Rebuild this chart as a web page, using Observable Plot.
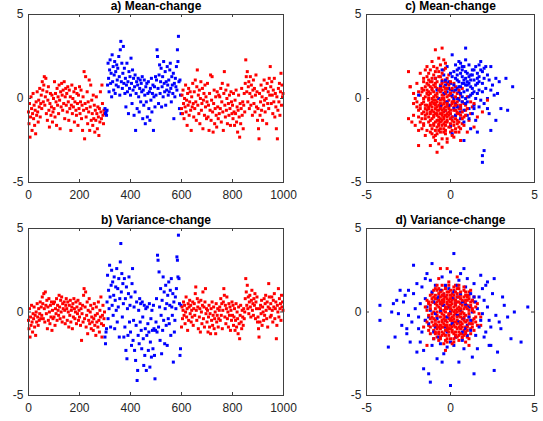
<!DOCTYPE html>
<html><head><meta charset="utf-8">
<script src="https://cdn.jsdelivr.net/npm/d3@7"></script>
<script src="https://cdn.jsdelivr.net/npm/@observablehq/plot@0.6"></script>
<style>
html,body{margin:0;padding:0;background:#fff}
#chart{position:relative;width:543px;height:421px;overflow:hidden;background:#fff}
#chart svg{position:absolute;left:0;top:0}
</style>
</head><body><div id="chart"></div>
<script>
// ---- tick labels ----
const timeTicks = [0, 200, 400, 600, 800, 1000];
const valueTicks = [-5, 0, 5];
const titles = ["a) Mean-change", "b) Variance-change", "c) Mean-change", "d) Variance-change"];
const timeStep = 2;            // one stored value every 2 time steps
const changeStart = 300, changeEnd = 600;

// ---- a) mean-change series (value at t = 0,2,4,...,998) ----
const meanSeries = [
-0.8,-1.5,-0.3,-2.3,-1.1,0.1,-0.6,-1.9,-0.9,0.3,-1.2,-0.4,-1.6,-0.7,-2.1,-0.2,-1.0,0.4,-0.8,-1.4,-0.1,-0.5,0.6,-1.1,-0.3,
0.2,-0.6,1.0,0.5,-0.2,0.8,1.3,-0.4,0.1,1.2,-0.9,0.4,-1.3,-0.1,0.7,-0.7,-1.7,-0.3,0.3,-1.0,-0.5,0.2,-1.4,-0.8,0.0,
-0.6,1.0,-1.1,0.3,-0.2,-1.6,0.6,-0.4,0.1,-0.9,0.8,-0.1,-1.8,0.4,-0.5,0.9,0.2,-0.7,0.5,-0.3,1.0,-1.2,0.1,0.6,-0.4,
0.3,-0.8,0.7,-0.2,-1.3,0.5,-0.6,0.1,-1.9,-0.4,0.8,-0.9,0.0,-0.5,0.4,-1.4,-0.2,0.6,-0.7,-1.0,0.3,-0.3,-1.6,0.2,-0.6,
0.7,-0.9,-0.2,0.5,-1.2,-0.4,-1.9,0.1,-0.7,1.6,-2.4,-0.3,1.3,-1.1,-0.6,0.4,-1.5,-0.2,-0.8,1.1,-1.9,-0.5,0.8,-1.3,-0.1,
-0.9,-1.6,0.2,-1.2,-0.4,-2.0,-0.7,-1.3,0.1,-0.9,-1.8,-0.5,-1.1,-2.2,-0.6,-1.4,0.4,-0.8,-1.2,0.8,-0.3,-1.0,-1.5,-0.7,-0.9,
-0.6,-0.9,-0.8,-1.0,-0.7,0.8,2.1,1.2,0.4,1.7,2.3,0.9,1.5,0.1,2.6,1.0,1.9,0.5,1.4,2.2,0.3,1.6,0.8,2.0,1.1,
1.8,0.7,2.5,1.3,0.2,2.9,3.4,1.0,2.1,0.6,1.5,3.1,0.9,1.8,0.3,1.2,-0.5,0.8,2.1,0.4,1.0,-0.9,1.6,0.6,1.3,
0.2,2.4,0.9,-0.3,1.7,0.5,1.2,-1.0,0.7,1.4,-1.9,0.3,1.0,-0.6,0.8,1.2,0.1,-0.8,0.6,1.1,-0.2,0.9,0.4,1.3,-1.2,
0.5,-0.4,1.1,0.2,-1.5,0.7,-0.2,0.9,-1.1,0.3,1.0,-0.6,0.4,-1.3,0.6,-0.1,1.2,-0.8,0.3,0.8,-1.9,0.1,0.7,-0.5,1.3,
0.2,1.1,2.9,2.5,0.6,-0.3,1.4,2.0,0.3,1.0,1.8,-0.5,0.7,1.3,0.1,2.2,0.9,0.4,1.6,-0.4,1.0,0.5,1.9,0.8,0.2,
1.1,0.4,1.7,2.1,0.6,-0.2,1.3,0.8,0.3,1.5,-1.2,0.9,0.1,1.2,0.7,1.9,0.5,2.9,2.2,3.7,1.0,-0.6,1.1,0.2,-0.9,
-0.6,0.2,-0.9,0.5,-0.3,-1.2,0.0,-0.5,0.8,-0.8,-0.1,-1.6,0.3,-0.4,0.6,-1.0,-0.2,0.4,-0.7,-1.9,0.1,-0.5,0.9,-0.3,-1.1,
0.4,-0.6,1.1,-0.2,-1.3,0.7,1.7,-0.4,0.2,-0.9,0.5,-1.5,0.0,1.0,-0.7,-0.3,0.6,-1.8,-0.1,0.3,-1.0,0.8,-0.5,0.1,-1.2,
-0.2,0.9,-1.1,-0.4,-1.9,0.3,-0.7,1.4,-1.3,-0.1,1.3,-0.8,-2.0,-0.3,0.5,-1.5,-0.6,0.1,-1.0,-1.7,0.4,-0.5,-1.2,0.2,-0.9,
0.1,-0.6,0.6,-1.4,-0.2,0.9,-0.8,-1.9,0.3,1.6,-0.4,-1.1,0.5,-0.7,0.0,-1.5,0.8,-0.3,-1.0,0.2,-0.6,-1.6,0.4,-0.2,-0.9,
-0.4,-1.2,0.3,-0.8,-1.6,-0.1,-0.9,0.5,-1.4,-0.5,-2.0,-0.7,0.2,-1.1,-2.3,-0.3,-1.5,-0.6,0.6,-1.0,-0.2,-1.8,-0.4,0.3,-0.8,
0.9,2.3,1.3,0.4,1.6,-0.2,0.7,1.0,-0.6,0.3,1.3,-0.4,0.8,0.1,-1.0,0.5,1.1,-0.3,0.6,-0.8,0.2,1.4,-0.5,0.4,-1.3,
-0.6,-1.8,-2.4,0.3,-1.0,-0.2,0.8,-0.7,0.1,-1.3,0.5,-0.4,1.1,-0.1,-0.8,0.6,0.0,-1.5,0.9,-0.3,0.4,-0.6,1.2,0.2,1.9,
0.7,-0.3,1.0,0.2,-0.9,0.5,-0.2,1.2,-1.1,0.3,-0.5,-1.8,0.1,-2.4,-0.7,0.6,-0.2,0.9,-1.0,0.4,1.5,-0.4,0.8,0.1,0.3
];

// ---- b) variance-change series (value at t = 0,2,4,...,998) ----
const varianceSeries = [
-0.5,-1.0,0.2,-1.5,-0.3,-0.8,0.4,-0.6,-1.2,-0.1,-0.4,0.3,-0.9,-0.2,-1.4,0.0,-0.6,0.5,-0.3,-0.8,0.2,-0.5,-0.1,0.6,-0.4,
0.3,-0.2,0.9,0.5,-0.4,1.1,0.2,-0.6,1.2,0.4,-0.1,0.7,-1.0,0.3,-0.5,0.8,0.0,-0.7,0.4,-0.3,0.6,-1.1,0.1,-0.4,0.5,
-0.3,0.6,-0.8,0.2,-0.1,0.8,-0.5,0.4,0.1,-0.2,1.0,0.3,-0.4,0.7,0.0,0.9,-0.6,0.5,0.2,-0.3,0.6,0.1,-0.7,0.4,0.8,
0.2,-0.5,0.6,0.0,-0.9,0.4,-0.2,0.7,-0.6,0.1,0.3,-1.0,0.5,-0.3,0.8,0.2,-0.4,0.0,0.6,-0.7,0.3,-0.1,0.7,-0.5,0.1,
-0.3,0.5,-0.8,0.2,-1.7,-0.1,0.4,-0.6,1.0,1.4,-0.4,0.3,1.2,-0.9,-0.2,0.6,-1.3,0.1,-0.5,0.8,-0.7,0.0,0.4,-1.0,-0.3,
-0.6,0.2,-1.1,-0.4,0.5,-0.8,-0.2,-1.4,0.3,-0.6,-0.1,-0.9,0.6,-0.5,-1.2,0.1,-0.3,0.9,-0.7,-1.5,-0.2,0.4,-0.8,-0.4,0.0,
-1.5,-1.9,-1.2,-1.0,0.6,2.2,-0.4,1.3,0.2,2.8,0.9,-0.9,1.6,2.5,0.4,1.8,-0.2,1.0,2.1,-1.0,0.7,1.5,0.1,2.6,-0.6,
1.4,0.3,2.0,-1.5,0.8,3.0,4.1,1.2,2.3,-0.3,1.7,0.5,-1.5,2.0,-0.9,0.8,-2.3,1.5,-2.8,0.2,-1.4,1.1,2.1,-0.6,0.4,
-1.2,0.9,-2.0,1.7,2.6,-1.7,-0.5,0.3,-2.3,1.2,-2.9,-0.8,0.6,-4.1,-3.5,-1.4,0.1,-1.9,0.8,-0.6,0.5,-1.1,-2.2,0.6,-0.3,
-1.6,-3.2,0.4,-2.6,-1.0,0.2,-3.5,-1.4,0.3,-0.7,-2.3,-1.2,0.5,-3.3,-1.8,-0.4,-2.7,0.1,-1.1,-2.2,0.4,-1.0,-2.6,-4.0,-1.1,
-0.6,0.8,-1.2,3.4,3.1,-0.9,2.4,0.3,-1.7,1.4,-0.2,-2.5,0.7,-1.1,2.1,-0.5,1.2,-1.9,0.2,1.6,-0.8,0.5,-2.0,1.0,-0.4,
1.8,-0.7,0.4,1.3,-1.4,2.0,0.3,-0.2,1.1,-3.0,0.6,-1.2,-0.5,0.9,0.2,1.4,3.3,3.1,2.1,4.6,2.0,0.5,-2.6,-2.2,0.4,
-0.9,0.3,-0.4,0.1,0.6,-0.2,0.4,-0.7,0.0,0.9,-0.3,0.2,-1.1,0.5,-0.5,0.3,0.7,-0.1,0.4,-0.6,0.1,-0.3,0.6,-0.8,0.2,
0.5,-0.2,1.1,1.5,0.1,-0.5,0.8,0.3,-1.0,0.6,-0.3,0.2,-1.2,0.7,0.0,-0.7,0.4,1.2,-0.4,0.3,-0.9,0.6,1.4,-0.1,0.2,
-0.6,0.1,-1.2,-0.3,0.4,-0.9,-0.1,-1.3,0.2,-0.5,0.6,-0.8,-0.2,0.3,-1.0,-0.4,0.0,-1.3,0.5,-0.6,-0.2,0.2,-0.9,-0.4,0.1,
0.3,-0.5,0.8,-0.2,0.5,-1.0,0.1,0.6,1.4,1.0,-0.3,0.4,-0.7,0.2,0.9,-0.4,0.0,-0.9,0.5,-0.2,0.3,-1.1,0.1,-0.5,0.6,
-0.2,0.4,-0.8,-0.3,0.2,-1.1,-0.5,0.5,-0.9,0.0,-0.4,-1.3,0.3,-0.7,-1.6,-0.2,0.4,-0.6,-1.0,0.1,-0.3,-0.8,0.2,-0.4,0.0,
0.8,2.0,1.2,0.4,1.6,0.2,0.9,-0.1,0.6,1.0,0.3,-0.3,0.7,1.3,0.1,0.5,-0.2,0.8,0.4,1.1,-0.4,0.6,0.2,0.9,-0.6,
-0.3,-1.0,-1.5,0.2,-0.6,0.4,-0.1,0.7,-0.8,0.3,0.0,-0.5,0.8,-0.2,0.5,1.0,0.1,-0.4,0.6,-0.9,0.3,1.7,0.9,0.2,-0.3,
0.5,-0.2,0.9,0.1,-0.6,0.7,0.3,1.1,-0.4,0.2,0.6,-1.6,-0.8,0.4,0.0,1.4,-0.3,0.8,0.2,0.5,-0.5,1.0,0.3,0.6,0.1
];

// ---- c) mean-change scatter ----
const meanRed = [
[-0.5,-0.4],[-0.9,0.2],[-0.2,-1.1],[-1.3,-0.6],[0.1,-0.3],[-0.7,-1.5],[-1.1,0.5],[-0.3,0.3],[0.4,-0.8],[-1.6,-0.2],
[-0.8,-0.9],[-0.4,-1.8],[0.2,0.4],[-1.2,-1.3],[-0.6,0.8],[0.5,-1.4],[-1.9,0.4],[-0.1,-0.6],[-1.0,-0.1],[0.7,-0.2],
[-0.5,1.1],[-1.4,-1.9],[0.0,-2.0],[-0.8,0.6],[-1.7,-0.9],[0.3,-1.0],[-0.3,-0.2],[-1.1,1.2],[-0.6,-1.2],[0.9,-0.7],
[-1.5,0.1],[-0.2,0.9],[-0.9,-2.2],[0.6,0.2],[-1.2,-0.3],[-0.4,-0.8],[0.2,-1.6],[-2.0,-0.5],[-0.7,0.0],[-0.1,1.4],
[-1.3,0.8],[0.4,-0.4],[-0.8,-1.7],[-1.6,1.0],[0.1,0.1],[-0.5,-2.4],[-1.0,-1.0],[0.8,-1.1],[-0.3,0.6],[-1.8,-1.4],
[-0.6,-0.5],[0.3,0.7],[-1.1,-0.7],[-0.2,-1.4],[-1.4,0.3],[0.5,-0.6],[-0.9,1.6],[-0.4,0.2],[-2.1,0.0],[0.0,-0.9],
[-0.7,-1.1],[1.0,0.1],[-1.2,-2.0],[-0.5,0.5],[0.2,-2.3],[-1.5,-0.6],[-0.1,-0.1],[-0.8,1.0],[0.6,-1.8],[-1.3,-1.1],
[-0.6,2.0],[-0.3,-1.0],[-1.7,0.6],[0.4,0.3],[-1.0,-1.5],[-0.4,-0.3],[0.1,-1.3],[-2.2,-1.0],[-0.9,-0.4],[0.7,0.6],
[-1.1,0.0],[-0.2,-2.6],[-0.7,1.3],[-1.6,-1.6],[0.3,-0.7],[-0.5,-0.9],[-1.3,1.5],[0.0,0.5],[-0.8,-0.2],[1.2,-0.9],
[-1.9,-1.9],[-0.4,1.7],[-1.0,0.4],[0.5,-2.0],[-0.6,-1.4],[-1.4,-0.9],[0.2,-0.1],[-0.3,-1.6],[-2.4,0.7],[-0.9,0.9],
[-0.1,-0.5],[-1.2,0.7],[-0.6,-2.0],[0.3,-1.2],[-1.5,-1.2],[-0.8,0.3],[0.0,-1.7],[-2.0,0.9],[-0.4,-0.6],[0.8,-0.3],
[-1.1,-1.8],[-0.3,1.0],[-0.9,-0.6],[0.5,0.0],[-1.7,-0.3],[-0.5,-1.3],[0.2,0.9],[-1.3,-0.1],[-0.7,-2.7],[1.1,-1.3],
[-0.2,0.1],[-1.0,1.9],[-1.6,-0.8],[0.4,-1.5],[-0.6,0.4],[-1.2,-1.6],[0.0,-0.4],[-2.3,-1.4],[-0.8,-1.3],[0.9,-0.4],
[-0.4,2.3],[-1.4,0.5],[-0.1,-0.8],[-1.9,-0.7],[0.6,-1.0],[-0.9,-0.1],[-0.3,-2.1],[-1.1,1.0],[0.2,-0.5],[-1.5,-2.2],
[-0.5,0.0],[1.3,-0.5],[-1.0,-0.8],[-0.2,1.2],[-1.8,0.2],[0.1,-1.9],[-0.7,-0.7],[-1.3,1.1],[0.7,-1.5],[-0.4,-1.1],
[-1.1,2.2],[-0.7,2.4],[-1.4,1.9],[-1.6,1.2],[-2.5,1.6],[-2.4,0.7],[-2.5,-1.2],[-0.5,3.0],[-0.9,2.9],[-0.8,-3.2],
[-1.9,-2.8],[-1.2,-2.8],[2.2,-0.1],[1.4,-1.7],[1.9,-0.8],[1.0,-2.0],[1.6,-1.1],[1.4,-0.3],[0.6,-2.5],[-2.2,0.3],
[-0.6,-0.1],[-1.0,0.1],[0.1,-1.1],[-0.3,0.4],[-1.4,-0.4],[-0.8,-1.0],[0.3,0.1],[-1.2,0.3],[-0.5,-1.6],[-0.1,0.8],
[-1.7,-1.2],[-0.4,-0.1],[0.5,-0.9],[-0.9,0.7],[-1.3,-0.5],[-0.2,-1.3],[-0.7,1.6],[0.0,0.3],[-1.1,-1.2],[-0.6,-0.3],
[-1.5,0.7],[0.2,-0.7],[-0.8,-0.5],[-0.3,-1.9],[-1.0,1.4],[0.4,-0.2],[-1.2,-0.9],[-0.5,0.2],[-2.0,-0.2],[0.1,-2.2],
[-0.9,-1.4],[-0.2,-0.4],[-1.3,0.0],[0.6,-0.6],[-0.6,1.3],[-1.6,-1.5],[0.0,-1.5],[-0.7,-0.4],[-1.1,0.6],[0.8,-1.6],
[-0.4,0.7],[-1.8,-0.6],[-0.1,-1.0],[-0.9,-1.9],[-1.4,0.9],[0.3,-1.8],[-0.5,-0.7],[-1.0,-0.3],[0.5,0.5],[-0.3,1.8],
[-1.2,1.7],[-0.6,-0.9],[0.2,-0.2],[-1.5,-1.0],[-0.8,0.1],[-0.2,-2.4],[-1.7,0.4],[0.7,-1.2],[-0.4,-1.5],[-1.0,-2.3],
[-0.7,0.5],[0.0,-0.7],[-1.3,-1.4],[-0.5,1.5],[-1.9,-1.1],[0.4,-1.3],[-0.9,-0.3],[-0.3,-0.5],[-1.1,-0.5],[1.0,-0.6],
[-0.6,-1.8],[-1.4,1.3],[-0.2,0.6],[-0.8,-2.1],[0.1,0.6],[-1.6,0.0],[-0.4,-1.2],[-1.0,0.8],[0.6,-0.4],[-1.2,-0.4],
[-0.5,-1.0],[-0.9,1.2],[-2.1,-1.6],[-0.1,-1.7],[-0.7,-1.6],[0.3,-0.4],[-1.3,0.4],[-0.4,0.0],[-1.5,-0.4],[0.2,-1.4],
[-0.8,-0.7],[-1.0,-1.1],[-0.3,-0.7],[-1.2,1.0],[0.5,-1.7],[-0.6,0.6],[-1.7,-1.8],[-0.1,0.2],[-0.9,-2.5],[1.2,-0.2],
[-0.2,-0.9],[-1.1,-0.2],[-0.5,0.9],[-1.4,-0.7],[0.0,-1.2],[-0.7,-1.9],[-1.8,1.5],[0.4,-0.9],[-0.3,2.1],[-1.0,-1.6],
[-0.6,-0.6],[-1.3,0.2],[0.1,-0.2],[-0.9,-0.9],[-0.4,-2.0],[-1.6,0.5],[0.7,-0.8],[-0.8,1.8],[-1.2,-0.8],[-0.2,-0.3],
[-0.5,-2.9],[-1.5,1.7],[0.9,-1.0],[-2.2,-0.3],[-0.7,-1.3],[0.0,1.0],[-1.1,-2.1],[-0.3,-1.4],[0.3,-2.0],[-1.8,-0.4]
];
const meanBlue = [
[0.6,0.7],[1.2,1.4],[0.1,0.2],[0.9,-0.3],[-0.3,1.1],[1.6,0.9],[0.4,1.7],[0.8,0.4],[1.9,1.6],[0.2,-0.6],
[1.1,0.1],[-0.1,0.6],[0.7,1.9],[1.4,-0.4],[0.3,1.2],[2.1,0.6],[0.5,-0.1],[1.0,1.0],[-0.4,0.3],[1.7,1.3],
[0.9,1.6],[0.0,1.5],[1.3,0.3],[0.6,-0.8],[2.3,1.1],[-0.2,-0.2],[1.5,1.9],[0.8,0.9],[0.4,0.0],[1.8,-0.1],
[1.2,0.7],[0.2,0.8],[-0.5,1.7],[1.0,-1.0],[2.0,1.8],[0.7,1.3],[0.1,-1.1],[1.4,1.1],[0.5,2.2],[2.5,0.8],
[0.9,3.0],[0.1,2.6],[3.7,0.7],[3.4,-0.7],[3.0,-0.6],[3.3,1.2],[2.7,1.2],[2.4,1.9],[1.9,-3.4],[1.9,-3.8],
[2.0,-3.1],[2.4,-1.9],[1.6,-2.0],[0.8,-2.5],[0.1,-2.1],[-0.9,1.2],[-1.9,0.2],[2.8,0.3],[2.2,-0.6],[1.5,-1.3],
[0.6,1.5],[1.1,-0.6],[-0.2,1.9],[1.7,0.5],[0.3,0.5],[0.9,2.3],[1.3,1.7],[-0.6,0.7],[2.2,1.4],[0.7,0.1],
[0.4,-0.5],[1.6,1.5],[0.0,0.9],[1.1,2.0],[2.6,0.2],[0.5,1.0],[-0.3,-0.7],[1.9,0.9],[0.8,-1.4],[1.4,0.4],
[0.2,1.6],[1.0,0.5],[-0.7,0.0],[1.7,2.0],[0.6,0.3],[2.0,-0.3],[0.3,2.0],[1.2,1.1],[-0.1,-0.4],[0.9,1.2],
[1.5,0.0],[0.7,-0.2],[2.4,0.5],[0.1,1.3],[1.3,-0.9],[0.5,1.8],[1.8,1.7],[-0.4,1.4],[1.0,1.5],[0.8,-0.7],
[1.2,0.2],[0.4,0.6],[2.1,1.9],[-0.2,0.4],[0.6,-1.2],[1.6,0.3],[0.9,0.8],[0.0,-1.6],[1.4,1.7],[2.3,-0.9],
[0.3,-0.3],[1.1,1.3],[-0.6,-0.4],[0.8,1.9],[1.9,0.4],[0.5,0.4],[1.5,0.8],[-0.1,1.0],[2.7,-1.3],[1.2,-1.8],
[0.7,0.9],[0.2,0.0],[1.0,-0.2],[1.7,1.0],[0.4,1.4],[1.3,0.6],[-0.8,0.5],[2.0,1.2],[0.6,2.1],[1.1,-1.2],
[0.9,0.0],[-0.3,0.8],[1.4,-0.6],[0.1,0.5],[1.8,2.2],[0.8,1.1],[2.2,0.0],[0.3,-1.0],[1.6,1.2],[0.5,0.7],
[1.0,0.8],[0.0,0.2],[1.3,1.4],[0.6,-0.5],[2.9,1.0],[0.4,1.1],[1.7,-0.5],[-0.5,1.0],[1.1,0.9],[0.7,1.7]
];

// ---- d) variance-change scatter ----
const varRed = [
[0.0,0.0],[-0.5,0.4],[0.6,-0.3],[-0.2,-0.8],[0.3,0.7],[-0.8,-0.2],[0.9,0.5],[0.1,-1.2],[-0.4,1.1],[0.7,-0.9],
[-1.0,0.6],[0.4,0.2],[-0.1,-0.4],[1.1,-0.1],[-0.6,-1.0],[0.2,1.3],[-0.3,0.2],[0.8,0.9],[-0.9,-0.7],[0.5,-0.6],
[-0.2,0.6],[1.2,0.3],[-0.7,0.9],[0.3,-1.5],[0.0,-0.5],[-1.1,-0.3],[0.6,0.1],[-0.4,-1.3],[1.0,-0.5],[0.1,0.9],
[-0.6,0.0],[0.4,-1.0],[-0.1,1.6],[0.9,-1.2],[-1.2,0.4],[0.2,-0.2],[-0.5,-0.5],[1.4,0.6],[-0.3,-1.7],[0.7,0.4],
[0.0,1.0],[-0.8,1.3],[0.5,-1.4],[-1.3,-0.8],[1.1,1.0],[-0.2,-1.0],[0.3,0.4],[-0.7,-1.2],[0.8,-0.1],[-0.4,0.7],
[1.3,-0.7],[-1.0,-1.1],[0.1,-0.7],[-0.5,1.6],[0.6,0.8],[-0.1,0.3],[1.0,-1.5],[-0.9,0.2],[0.4,1.1],[-0.3,-0.3],
[0.2,-1.8],[-1.4,0.1],[0.7,-0.4],[-0.6,0.5],[1.5,-0.3],[-0.2,1.2],[0.5,0.6],[-0.8,-1.5],[0.0,-1.0],[0.9,1.2],
[-0.4,-0.9],[0.3,1.6],[-1.1,0.8],[1.2,-1.0],[-0.1,-0.1],[0.6,-0.8],[-0.7,0.3],[0.1,0.5],[-1.5,-0.5],[0.8,0.2],
[-0.3,0.9],[1.0,0.7],[-0.6,-1.6],[0.4,-0.5],[-0.9,1.0],[0.2,-1.3],[1.3,0.2],[-0.2,-0.6],[0.5,1.4],[-1.2,-1.3],
[0.7,-1.6],[-0.5,-0.1],[0.0,0.6],[1.6,-0.8],[-0.8,0.6],[0.3,-0.9],[-0.3,1.5],[0.9,-0.6],[-1.0,-0.4],[0.1,-0.3],
[-0.6,2.6],[-0.2,2.6],[-0.3,-2.3],[-1.4,-2.0],[-1.6,-0.9],[1.8,-0.3],[1.8,-0.8],[-0.7,2.0],[0.4,2.1],[1.1,-2.0],
[0.6,0.5],[-0.4,0.1],[1.1,-0.3],[-0.9,-0.9],[0.2,0.8],[-0.1,-1.4],[0.8,-1.1],[-1.3,0.6],[0.5,-0.2],[-0.5,1.3],
[1.4,0.9],[-0.7,-0.6],[0.0,-1.6],[0.3,0.1],[-1.1,1.1],[0.9,-0.9],[-0.2,0.5],[0.6,1.0],[-0.8,-0.3],[1.2,-1.3],
[-0.3,-1.1],[0.4,0.6],[-1.0,0.0],[0.7,-1.3],[0.1,1.1],[-0.6,-0.8],[1.0,0.4],[-0.4,0.4],[0.2,-0.6],[-1.2,-0.9],
[0.5,-1.7],[-0.1,0.7],[1.3,-0.5],[-0.7,1.1],[0.8,0.6],[-0.4,-1.9],[0.3,-0.1],[-0.9,0.5],[1.1,1.2],[0.0,-0.8],
[-0.5,-1.4],[0.6,-0.6],[-0.2,1.0],[1.5,0.3],[-1.3,-0.2],[0.2,0.3],[-0.6,0.9],[0.9,-1.8],[-0.1,-0.2],[0.4,1.4],
[-0.8,-1.0],[1.2,0.6],[0.1,-1.1],[-1.0,1.3],[0.7,0.0],[-0.3,0.0],[0.5,0.9],[-1.4,0.7],[1.0,-0.9],[-0.2,-1.6],
[0.3,-1.4],[-0.6,0.2],[0.8,1.5],[-0.4,-0.4],[1.4,-1.1],[0.0,0.4],[-0.9,-1.3],[0.6,-1.0],[-0.1,1.8],[1.7,-0.1],
[-1.1,-0.6],[0.2,0.0],[-0.5,0.7],[1.1,0.1],[0.4,-1.5],[-0.7,-0.9],[0.9,0.7],[-0.3,1.4],[0.1,-0.5],[-1.2,0.2],
[0.6,1.2],[-0.2,-0.9],[1.3,-0.9],[-0.8,1.6],[0.5,0.3],[-0.4,-0.7],[0.2,1.0],[-1.0,-1.6],[0.8,-0.3],[0.0,0.2],
[-0.6,-0.3],[1.0,1.0],[0.3,-0.6],[-0.9,0.8],[0.7,-0.7],[-0.1,-1.2],[1.5,-0.6],[-0.5,0.5],[0.4,-0.3],[-1.5,0.3],
[0.1,0.7],[-0.3,-1.4],[0.9,0.3],[-0.7,-1.7],[1.2,1.3],[0.0,-0.4],[-1.1,-0.1],[0.5,0.1],[-0.4,1.0],[0.8,-1.4],
[-0.2,0.2],[0.6,-1.3],[-0.8,0.0],[1.1,0.8],[0.2,-0.8],[-0.6,1.2],[0.4,0.9],[-1.3,-1.1],[1.4,0.0],[-0.1,-1.0],
[0.7,0.7],[-0.5,-1.2],[0.0,1.3],[1.0,-1.1],[-0.9,-0.5],[0.3,0.5],[-0.3,-0.5],[1.6,0.5],[-0.7,0.7],[0.2,-1.6],
[-1.2,1.0],[0.5,-0.9],[-0.4,-0.2],[0.9,1.0],[0.1,-1.9],[-0.8,0.4],[1.2,-0.7],[-0.2,0.8],[0.6,0.2],[-1.0,-0.8],
[0.3,1.2],[-0.6,-1.5],[1.1,-1.6],[0.0,-0.1],[-0.5,1.0],[0.8,-0.5],[-1.4,-0.6],[0.4,0.0],[-0.1,0.4],[1.3,0.7],
[-0.7,-1.3],[0.2,1.5],[-0.3,-0.8],[0.9,-0.2],[-1.1,0.6],[0.5,-1.2],[-0.4,0.8],[1.0,0.2],[0.1,-0.9],[-0.9,1.4],
[0.6,-0.1],[-0.2,-1.1],[1.4,-0.4],[-0.6,0.6],[0.3,0.7],[-1.2,-0.4],[0.8,1.3],[-0.5,-0.9],[0.0,0.8],[1.1,-0.7],
[-0.3,0.3],[0.7,-1.5],[-0.9,-1.2],[0.2,-0.4],[1.2,0.4],[-0.7,1.4],[0.4,-0.7],[-0.1,1.2],[0.9,-1.3],[-1.3,0.5],
[0.1,0.1],[-0.5,-0.6],[1.0,0.9],[-0.8,-0.8],[0.5,1.6],[-0.2,-1.8],[1.3,0.1],[-1.0,0.9],[0.3,-1.2],[-0.4,0.6]
];
const varBlue = [
[-4.2,0.4],[-4.2,-0.5],[-3.7,-2.1],[4.6,0.3],[4.2,-1.8],[3.8,0.0],[0.2,3.5],[-2.2,2.8],[-1.1,2.9],[0.0,-4.4],
[-1.2,-4.2],[-1.3,-3.7],[-1.6,-3.4],[1.4,-3.7],[2.6,-3.5],[2.8,-2.4],[2.3,-2.0],[3.6,-1.6],[3.1,0.9],[2.6,2.0],
[2.2,1.8],[-3.4,0.5],[-3.5,0.0],[-3.1,-0.1],[-3.3,-1.5],[-2.6,-1.3],[-3.0,1.3],[-2.5,1.3],[-2.7,1.0],[0.5,-3.0],
[0.3,0.5],[-0.8,-0.4],[1.2,1.1],[-1.5,0.8],[0.7,-1.2],[-0.3,1.6],[1.8,-0.5],[-1.9,-1.0],[0.0,-1.8],[1.0,2.0],
[-0.6,0.1],[2.0,0.7],[-1.2,1.9],[0.5,-0.6],[-2.1,0.2],[1.5,-1.4],[-0.4,-2.5],[0.9,0.4],[-1.0,-1.6],[2.4,-0.9],
[0.2,1.2],[-1.7,1.5],[1.3,0.0],[-0.9,-0.9],[0.6,2.3],[-2.3,-0.6],[1.9,1.4],[-0.2,-1.2],[0.8,-2.2],[-1.4,0.3],
[1.1,-0.3],[-0.5,2.1],[2.2,0.3],[-1.8,-1.8],[0.4,0.9],[-1.0,0.6],[1.6,-2.2],[-2.8,0.6],[0.1,-0.7],[1.4,1.7],
[-0.7,-1.5],[2.7,-0.2],[-1.3,-0.3],[0.9,1.5],[-2.0,1.7],[0.3,-1.5],[1.7,0.9],[-0.1,0.3],[-1.6,-2.3],[1.2,-1.1],
[-0.4,1.0],[0.6,0.1],[-2.4,-1.8],[2.0,-1.5],[-1.1,1.2],[0.0,2.4],[1.0,-0.8],[-0.8,-2.8],[3.2,0.4],[-1.5,-0.5],
[0.5,1.9],[-0.2,-0.3],[1.8,2.2],[-2.9,-0.8],[0.8,-0.4],[-1.2,0.1],[2.5,1.1],[-0.6,-1.9],[1.3,-2.7],[-2.0,-2.4],
[0.1,0.8],[-1.4,2.3],[2.3,-0.5],[-0.3,-0.9],[1.5,0.6],[-0.9,1.6],[0.7,-1.7],[-2.5,-0.2],[1.1,0.3],[-0.5,-3.0],
[3.0,-1.0],[-1.8,0.5],[0.4,-0.2],[-0.1,1.4],[2.1,1.6],[-1.0,-1.2],[0.9,-1.0],[-3.2,0.7],[1.6,0.2],[-0.7,0.9],
[0.2,-2.0],[-1.3,-0.7],[1.9,-0.1],[-0.4,0.4],[2.9,-0.6],[-2.2,1.1],[0.6,1.1],[-0.9,-0.1],[1.3,0.7],[-1.7,-1.2],
[0.0,0.0],[1.0,-1.4],[-0.6,1.3],[2.4,-2.0],[-1.5,2.0],[0.7,0.6],[-2.6,-1.0],[1.7,-0.9],[-0.2,-2.1],[0.4,1.6],
[-1.1,-2.0],[1.4,0.9],[-0.8,0.8],[2.1,-1.2],[-0.3,-0.5],[0.8,2.6],[-1.9,-0.3],[1.2,-0.5],[-0.5,0.5],[3.4,-0.3]
];

// ---- drawing ----
const RED = "#ff0000", BLUE = "#0000ff", INK = "#262626", EDGE = "#404040";
const FONT = '"Liberation Sans", Arial, Helvetica, sans-serif';
const W = 543, H = 421;

function seriesRows(values) {
  return values.map((v, i) => ({t: i * timeStep, v}));
}
function dots(rows, x, y, color) {
  return Plot.dot(rows, {x, y, fill: color, stroke: null, symbol: "square", r: 1.7});
}

function panel(frame, xDomain, xTicks, title, dataMarks) {
  const [l, r, t, b] = frame;
  const fw = r - l, fh = b - t;
  return Plot.plot({
    width: W, height: H,
    marginLeft: l, marginRight: W - r, marginTop: t, marginBottom: H - b,
    style: {fontFamily: FONT, fontSize: "12px", color: INK, background: "transparent", overflow: "visible"},
    x: {domain: xDomain, label: null},
    y: {domain: [-5, 5], label: null},
    marks: [
      ...dataMarks,
      Plot.frame({stroke: EDGE, strokeWidth: 1}),
      Plot.tickX(xTicks, {x: d => d, insetTop: fh - 3, stroke: EDGE}),
      Plot.tickX(xTicks, {x: d => d, insetBottom: fh - 3, stroke: EDGE}),
      Plot.tickY(valueTicks, {y: d => d, insetRight: fw - 3, stroke: EDGE}),
      Plot.tickY(valueTicks, {y: d => d, insetLeft: fw - 3, stroke: EDGE}),
      Plot.axisX({ticks: xTicks, tickSize: 0, tickPadding: 8, tickFormat: d => String(d), fill: INK}),
      Plot.axisY({ticks: valueTicks, tickSize: 0, tickPadding: 5, tickFormat: d => String(d), fill: INK}),
      Plot.text([title], {frameAnchor: "top", lineAnchor: "bottom", dy: -4.5, fontWeight: "bold", fontSize: 12, fill: "#000"})
    ]
  });
}

function timePanel(frame, values, title) {
  const rows = seriesRows(values);
  const before = rows.filter(d => d.t < changeStart);
  const during = rows.filter(d => d.t >= changeStart && d.t < changeEnd);
  const after = rows.filter(d => d.t >= changeEnd);
  return panel(frame, [0, 1000], timeTicks, title, [
    dots(before, "t", "v", RED), dots(during, "t", "v", BLUE), dots(after, "t", "v", RED)
  ]);
}
function scatterPanel(frame, red, blue, title) {
  const half = Math.floor(red.length / 2);
  return panel(frame, [-5, 5], valueTicks, title, [
    dots(red.slice(0, half), d => d[0], d => d[1], RED),
    dots(blue, d => d[0], d => d[1], BLUE),
    dots(red.slice(half), d => d[0], d => d[1], RED)
  ]);
}

const chart = document.getElementById("chart");
chart.append(
  timePanel([28, 283, 14, 182], meanSeries, titles[0]),
  timePanel([28, 283, 228, 395], varianceSeries, titles[1]),
  scatterPanel([366, 534, 14, 182], meanRed, meanBlue, titles[2]),
  scatterPanel([366, 534, 228, 395], varRed, varBlue, titles[3])
);
</script>
</body></html>
